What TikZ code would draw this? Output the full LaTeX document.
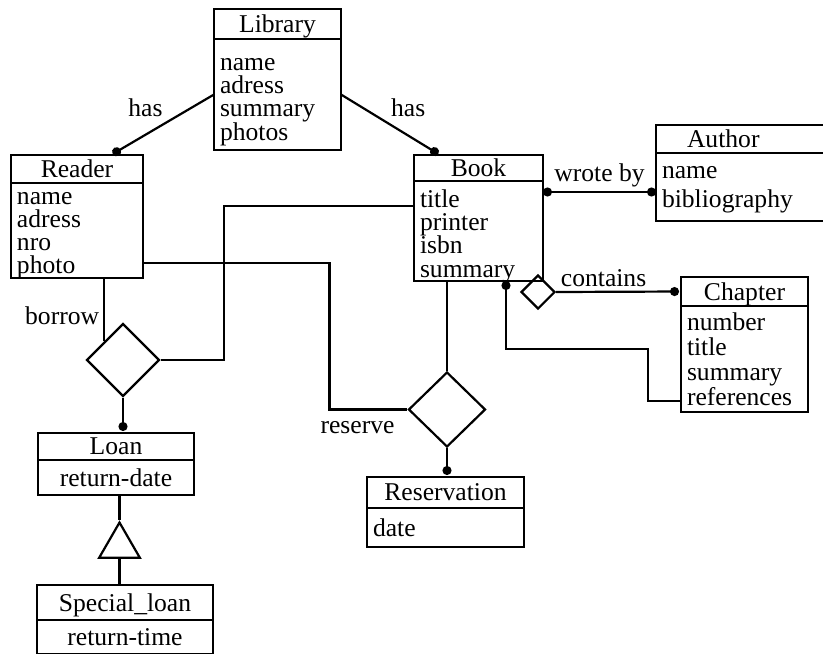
\documentclass[tikz,border=0pt]{standalone}
\usepackage{fontspec}
\setmainfont{Liberation Serif}
\usetikzlibrary{arrows.meta,positioning,shapes.geometric,calc}

\begin{document}
\begin{tikzpicture}[
  x=0.5pt, y=-0.5pt, line width=1.1pt,
  every node/.style={font=\fontsize{12.8pt}{11.7pt}\selectfont},
  entity/.style={draw, anchor=north west, outer sep=0pt, inner sep=0pt, text depth=0pt},
  attrs/.style={draw, outer sep=0pt, inner xsep=3pt, inner ysep=0pt, align=left},
  rel/.style={draw, diamond, inner sep=0pt},
  gen/.style={draw, regular polygon, regular polygon sides=3, inner sep=0pt, minimum size=23.5pt},
  todot/.style={-{Circle[length=4.5pt]}, shorten >=1pt},
  fromdot/.style={{Circle[length=4.5pt]}-},
  dotdot/.style={{Circle[length=4.5pt]}-{Circle[length=4.5pt]}},
  rlabel/.style={inner sep=2pt}
]
  \useasboundingbox (0,0) rectangle (823,653);

  % Entities
  \node[entity, minimum width=63.5pt, minimum height=15pt] (lib) at (214,9) {Library};
  \node[attrs, below=0pt of lib, text width=57.5pt, text height=15.5pt, text depth=40pt] (lib-attr) {name\\adress\\summary\\photos};

  \node[entity, minimum width=66pt, minimum height=14pt] (reader) at (11,155) {Reader};
  \node[attrs, below=0pt of reader, text width=60pt, text height=10.5pt, text depth=37pt,
        font=\fontsize{12.8pt}{11.5pt}\selectfont] (reader-attr) {name\\adress\\nro\\photo};

  \node[entity, minimum width=64.5pt, minimum height=13pt] (book) at (414,155) {Book};
  \node[attrs, below=0pt of book, text width=58.5pt, text height=13pt, text depth=37pt] (book-attr) {title\\printer\\isbn\\summary};

  \node[entity, minimum width=85pt, minimum height=14pt, text width=54pt, inner xsep=15.5pt, align=left] (author) at (656,125) {Author};
  \node[attrs, below=0pt of author, text width=79pt, text height=12.5pt, text depth=21.5pt,
        font=\fontsize{12.8pt}{14.5pt}\selectfont] (author-attr) {name\\bibliography};

  \node[entity, minimum width=63.5pt, minimum height=14.5pt] (chapter) at (681,277) {Chapter};
  \node[attrs, below=0pt of chapter, text width=57.5pt, text height=12pt, text depth=41pt,
        font=\fontsize{12.8pt}{12.5pt}\selectfont] (chapter-attr) {number\\title\\summary\\references};

  \node[entity, minimum width=78pt, minimum height=13.5pt] (loan) at (38,433) {Loan};
  \node[attrs, below=0pt of loan, text width=72pt, minimum height=17.5pt, text depth=0pt, align=center] (loan-attr) {return-date};

  \node[entity, minimum width=78.5pt, minimum height=15.5pt] (reservation) at (367,477) {Reservation};
  \node[attrs, below=0pt of reservation, text width=72.5pt, minimum height=19.5pt, text depth=0pt] (reservation-attr) {date};

  \node[entity, minimum width=88pt, minimum height=17.5pt] (special) at (37,585) {Special\_loan};
  \node[attrs, below=0pt of special, text width=82pt, minimum height=17pt, text depth=0pt, align=center] (special-attr) {return-time};

  % Relationships
  \node[rel, minimum width=17pt, minimum height=17pt] (contains) at (538,292) {};
  \node[rel, minimum width=36.5pt, minimum height=36.5pt] (borrow) at (123,360) {};
  \node[rel, minimum width=38.5pt, minimum height=37.5pt] (reserve) at (447,409.5) {};
  \node[gen] (isa) at (119.5,546) {};

  % Connectors
  \draw[todot] (lib-attr.west) -- node[rlabel, pos=0.45, above left] {has} ($(reader.north)+(34,0)$);
  \draw[todot] (lib-attr.east) -- node[rlabel, pos=0.455, above right] {has} ($(book.north)+(-38.5,0)$);
  \draw[dotdot] ($(book-attr.north east)+(0,11)$) -- node[rlabel, above] {wrote by} ($(author-attr.west)+(0,5)$);
  \draw[todot] (contains.east) -- node[rlabel, pos=0.38, above] {contains} (chapter.west);
  \draw[fromdot] ($(book-attr.south)+(27.5,0)$) |- ++(142,68) |- ($(chapter-attr.west)+(0,42)$);

  \draw (reserve.north |- book-attr.south) -- (reserve.north);
  \draw[todot] (reserve.south) -- (reserve.south |- reservation.north);
  \draw ($(reader-attr.east)+(0,32.5)$) -| ($(reserve.west)+(-78,0)$)
        -- node[rlabel, below, pos=0.36, yshift=-3.5pt] {reserve} (reserve.west);

  \draw (reader-attr.south -| borrow.north west) -- node[rlabel, left, pos=0.6] {borrow} (borrow.north west);
  \draw (borrow.east) -- ++(63,0) |- ($(book-attr.west)+(0,-25)$);
  \draw[todot] (borrow.south) -- (borrow.south |- loan.north);

  \draw (isa.north |- loan-attr.south) -- (isa.north);
  \draw (isa.south) -- (isa.south |- special.north);
\end{tikzpicture}
\end{document}
